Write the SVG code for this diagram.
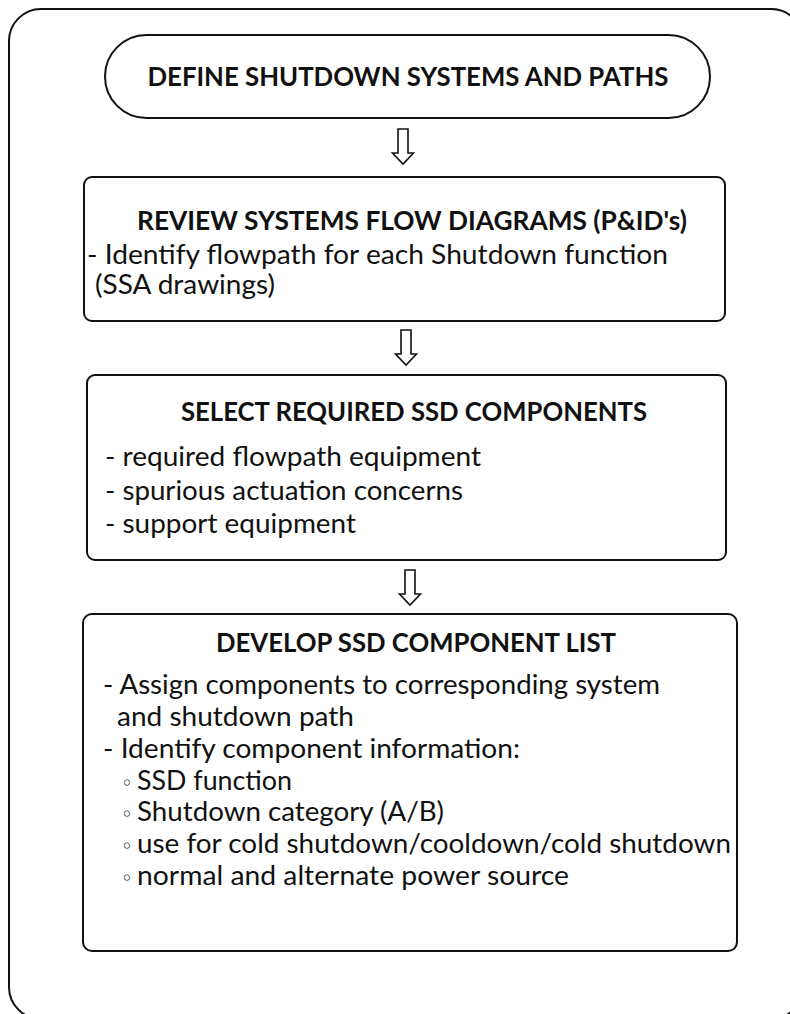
<svg xmlns="http://www.w3.org/2000/svg" width="790" height="1014" viewBox="0 0 790 1014">
  <style>
    .frame { fill: none; stroke: #111; stroke-width: 2; }
    .node { fill: #fff; stroke: #111; stroke-width: 2; }
    .arrow { fill: #fff; stroke: #111; stroke-width: 1.6; stroke-linejoin: miter; }
    .title { font-family: Lato, "Open Sans", "Liberation Sans", sans-serif; font-weight: bold; font-size: 27px; fill: #111; text-anchor: middle; }
    .body { font-family: Lato, "Open Sans", "Liberation Sans", sans-serif; font-size: 27px; fill: #111; }
    .dot { font-family: "DejaVu Sans", sans-serif; font-size: 20px; }
  </style>
  <defs>
    <!-- hollow block arrow pointing down, origin at shaft top centre -->
    <path id="downArrow" d="M -5 0 H 5 V 24 H 10.5 L 0 35 L -10.5 24 H -5 Z"/>
  </defs>

  <!-- outer frame -->
  <rect class="frame" x="9" y="9" width="794" height="1010" rx="32" ry="32"/>

  <g id="connectors">
    <use href="#downArrow" class="arrow" x="403" y="129"/>
    <use href="#downArrow" class="arrow" x="406" y="330"/>
    <use href="#downArrow" class="arrow" x="410" y="570"/>
  </g>

  <g id="define-shutdown">
    <rect class="node" x="105" y="35" width="605" height="83" rx="41.5" ry="41.5"/>
    <text class="title" x="408" y="86" textLength="521" lengthAdjust="spacingAndGlyphs">DEFINE SHUTDOWN SYSTEMS AND PATHS</text>
  </g>

  <g id="review-flow-diagrams">
    <rect class="node" x="84" y="177" width="641" height="144" rx="8" ry="8"/>
    <text class="title" x="412" y="230" textLength="550" lengthAdjust="spacingAndGlyphs">REVIEW SYSTEMS FLOW DIAGRAMS (P&amp;ID's)</text>
    <text class="body" x="87" y="264" textLength="581" lengthAdjust="spacingAndGlyphs">- Identify flowpath for each Shutdown function</text>
    <text class="body" x="95" y="294" textLength="180" lengthAdjust="spacingAndGlyphs">(SSA drawings)</text>
  </g>

  <g id="select-components">
    <rect class="node" x="87" y="375" width="639" height="185" rx="8" ry="8"/>
    <text class="title" x="414" y="421" textLength="466" lengthAdjust="spacingAndGlyphs">SELECT REQUIRED SSD COMPONENTS</text>
    <text class="body" x="105" y="466" textLength="376" lengthAdjust="spacingAndGlyphs">- required flowpath equipment</text>
    <text class="body" x="105" y="500" textLength="358" lengthAdjust="spacingAndGlyphs">- spurious actuation concerns</text>
    <text class="body" x="105" y="533" textLength="251" lengthAdjust="spacingAndGlyphs">- support equipment</text>
  </g>

  <g id="develop-list">
    <rect class="node" x="83" y="614" width="654" height="337" rx="9" ry="9"/>
    <text class="title" x="416" y="652" textLength="400" lengthAdjust="spacingAndGlyphs">DEVELOP SSD COMPONENT LIST</text>
    <text class="body" x="103" y="694" textLength="557" lengthAdjust="spacingAndGlyphs">- Assign components to corresponding system</text>
    <text class="body" x="117" y="726" textLength="237" lengthAdjust="spacingAndGlyphs">and shutdown path</text>
    <text class="body" x="103" y="758" textLength="417" lengthAdjust="spacingAndGlyphs">- Identify component information:</text>
    <text class="body" y="790"><tspan class="dot" x="121">◦</tspan><tspan x="137" textLength="155" lengthAdjust="spacingAndGlyphs">SSD function</tspan></text>
    <text class="body" y="821"><tspan class="dot" x="121">◦</tspan><tspan x="137" textLength="307" lengthAdjust="spacingAndGlyphs">Shutdown category (A/B)</tspan></text>
    <text class="body" y="853"><tspan class="dot" x="121">◦</tspan><tspan x="137" textLength="594" lengthAdjust="spacingAndGlyphs">use for cold shutdown/cooldown/cold shutdown</tspan></text>
    <text class="body" y="885"><tspan class="dot" x="121">◦</tspan><tspan x="137" textLength="432" lengthAdjust="spacingAndGlyphs">normal and alternate power source</tspan></text>
  </g>
</svg>
